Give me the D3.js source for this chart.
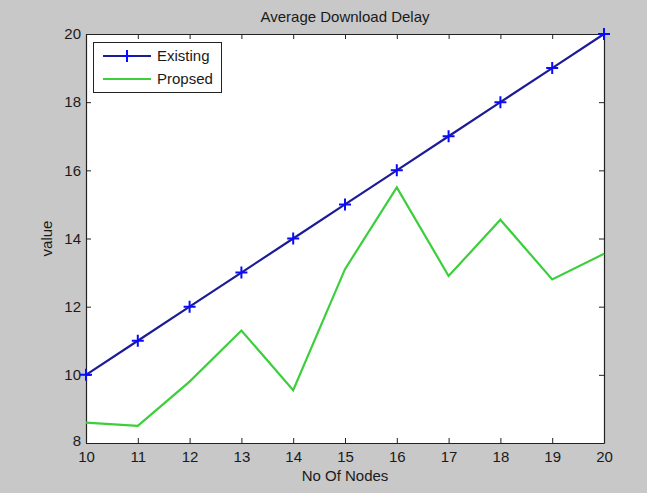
<!DOCTYPE html>
<html><head><meta charset="utf-8">
<script src="https://cdn.jsdelivr.net/npm/d3@7"></script>
<style>
html,body{margin:0;padding:0;background:#c8c8c8;}
svg{display:block;}
text{font-family:"Liberation Sans",Arial,sans-serif;fill:#1a1a1a;}
</style></head>
<body><svg id="c" width="647" height="493"></svg>
<script>
const nodes = [10,11,12,13,14,15,16,17,18,19,20];
const existing = [10,11,12,13,14,15,16,17,18,19,20];
const proposed = [8.6,8.5,9.8,11.3,9.55,13.1,15.5,12.9,14.55,12.8,13.55];
const xTicks = [10,11,12,13,14,15,16,17,18,19,20];
const yTicks = [8,10,12,14,16,18,20];
const seriesNames = ["Existing","Propsed"];

const svg = d3.select("#c");
const L=86,R=604,T=34,B=443;
const x = d3.scaleLinear().domain([10,20]).range([L,R]);
const y = d3.scaleLinear().domain([8,20]).range([B,T]);

svg.append("rect").attr("width",647).attr("height",493).attr("fill","#c8c8c8");
svg.append("rect").attr("x",L).attr("y",T).attr("width",R-L).attr("height",B-T).attr("fill","#fff");

const fs = 15;
const gx = svg.append("g").attr("transform",`translate(0,${B})`)
  .call(d3.axisBottom(x).tickValues(xTicks).tickSizeInner(-5).tickSizeOuter(0).tickPadding(8));
const gxt = svg.append("g").attr("transform",`translate(0,${T})`)
  .call(d3.axisTop(x).tickValues(xTicks).tickSizeInner(-5).tickSizeOuter(0).tickFormat(""));
const gy = svg.append("g").attr("transform",`translate(${L},0)`)
  .call(d3.axisLeft(y).tickValues(yTicks).tickSizeInner(-5).tickSizeOuter(0).tickPadding(5));
const gyr = svg.append("g").attr("transform",`translate(${R},0)`)
  .call(d3.axisRight(y).tickValues(yTicks).tickSizeInner(-5).tickSizeOuter(0).tickFormat(""));
[gx,gxt,gy,gyr].forEach(g=>{
  g.select(".domain").attr("stroke","#222").attr("stroke-width",1.2);
  g.selectAll(".tick line").attr("stroke","#222");
  g.selectAll("text").attr("font-size",fs).attr("fill","#1a1a1a")
   .style("font-family",'"Liberation Sans",Arial,sans-serif');
});
gy.selectAll(".tick").filter(d=>d===8).select("text").attr("dy","0.15em");

const line = d3.line().x((d,i)=>x(nodes[i])).y(d=>y(d));
svg.append("path").datum(proposed).attr("d",line).attr("fill","none")
  .attr("stroke","#3ccf3c").attr("stroke-width",2.2);
svg.append("path").datum(existing).attr("d",line).attr("fill","none")
  .attr("stroke","#1c1c96").attr("stroke-width",2.2);
const plus = (g,cx,cy)=>{
  g.append("path").attr("d",`M${cx-6},${cy}H${cx+6}M${cx},${cy-6}V${cy+6}`)
   .attr("stroke","#0a0aff").attr("stroke-width",2);
};
const mk = svg.append("g");
existing.forEach((v,i)=>plus(mk,x(nodes[i]),y(v)));

svg.append("text").attr("x",(L+R)/2).attr("y",21.5).attr("text-anchor","middle").attr("font-size",fs).text("Average Download Delay");
svg.append("text").attr("x",(L+R)/2).attr("y",481).attr("text-anchor","middle").attr("font-size",fs).text("No Of Nodes");
svg.append("text").attr("transform",`translate(52,${(T+B)/2}) rotate(-90)`).attr("text-anchor","middle").attr("font-size",fs).text("value");

const lg = svg.append("g");
lg.append("rect").attr("x",93.5).attr("y",42.5).attr("width",128).attr("height",50).attr("fill","#fff").attr("stroke","#222").attr("stroke-width",1);
lg.append("line").attr("x1",103).attr("x2",151).attr("y1",56).attr("y2",56).attr("stroke","#1c1c96").attr("stroke-width",2.2);
plus(lg,127,56);
lg.append("line").attr("x1",103).attr("x2",151).attr("y1",79).attr("y2",79).attr("stroke","#3ccf3c").attr("stroke-width",2.2);
lg.append("text").attr("x",157).attr("y",61).attr("font-size",fs).text(seriesNames[0]);
lg.append("text").attr("x",157).attr("y",84).attr("font-size",fs).text(seriesNames[1]);
</script></body></html>
